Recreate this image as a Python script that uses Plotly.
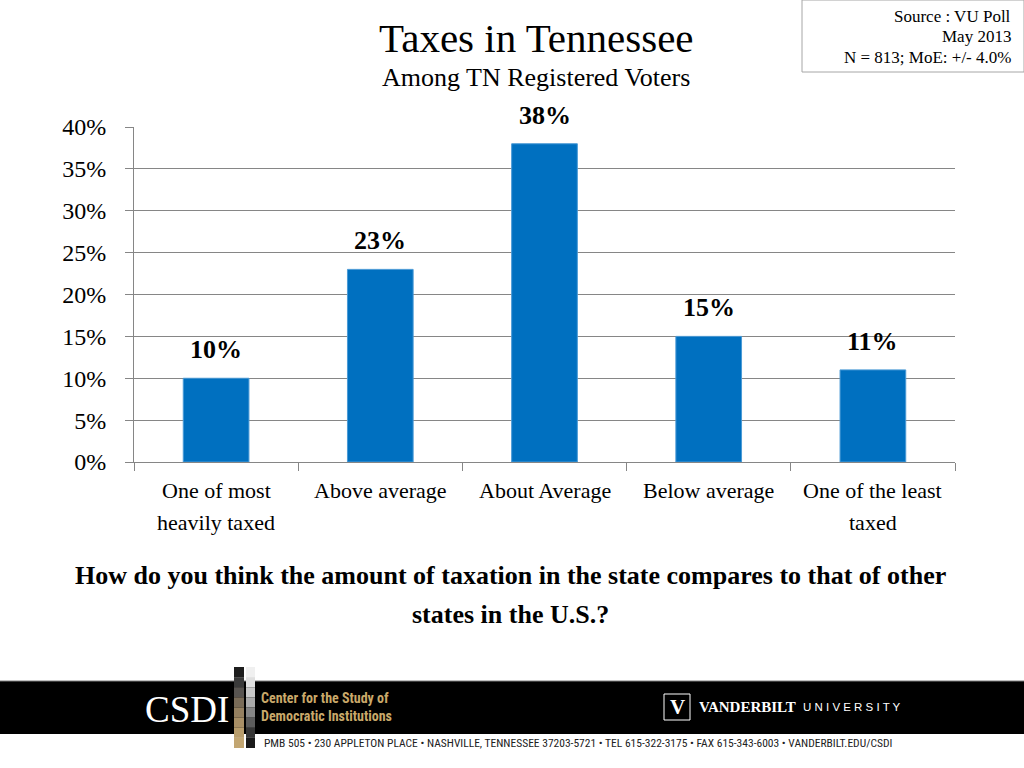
import plotly.graph_objects as go

categories = ["One of most\nheavily taxed", "Above average", "About Average", "Below average", "One of the least\ntaxed"]
values = [10, 23, 38, 15, 11]
y_ticks = [0, 5, 10, 15, 20, 25, 30, 35, 40]

W, H = 1024, 768
L, R, T, B = 134, 955, 127, 462

def px(x):
    return (x - L) / (R - L)

def py(y):
    return (B - y) / (B - T)

SERIF = "Liberation Serif"
COND = "Liberation Sans Narrow, Roboto Condensed, Liberation Sans"

fig = go.Figure()
fig.add_trace(go.Bar(
    x=categories, y=values, width=0.4,
    marker=dict(color="#0070c0", line=dict(color="#4a9ad6", width=1)),
    hoverinfo="skip",
))

annotations = []
for c, v in zip(categories, values):
    annotations.append(dict(x=c, y=v, xref="x", yref="y", text=f"<b>{v}%</b>",
                            showarrow=False, yanchor="bottom", yshift=12,
                            font=dict(family=SERIF, size=26, color="#000000")))
    lines = c.split("\n")
    for i, line in enumerate(lines):
        annotations.append(dict(x=c, y=py(490 + 32 * i), xref="x", yref="paper", text=line,
                                showarrow=False, yanchor="middle",
                                font=dict(family=SERIF, size=22, color="#000000")))

annotations += [
    dict(x=px(536), y=py(38), xref="paper", yref="paper", text="Taxes in Tennessee", showarrow=False,
         xanchor="center", yanchor="middle", font=dict(family=SERIF, size=41, color="#000000")),
    dict(x=px(536), y=py(78), xref="paper", yref="paper", text="Among TN Registered Voters", showarrow=False,
         xanchor="center", yanchor="middle", font=dict(family=SERIF, size=26, color="#000000")),
    dict(x=px(510), y=py(575), xref="paper", yref="paper",
         text="<b>How do you think the amount of taxation in the state compares to that of other</b>",
         showarrow=False, xanchor="center", yanchor="middle", font=dict(family=SERIF, size=26, color="#000000")),
    dict(x=px(510), y=py(614), xref="paper", yref="paper", text="<b>states in the U.S.?</b>",
         showarrow=False, xanchor="center", yanchor="middle", font=dict(family=SERIF, size=26, color="#000000")),
    dict(x=px(1013), y=py(16), xref="paper", yref="paper", text="Source : VU Poll", showarrow=False,
         xanchor="right", yanchor="middle", font=dict(family=SERIF, size=17, color="#000000")),
    dict(x=px(1013), y=py(37), xref="paper", yref="paper", text="May 2013", showarrow=False,
         xanchor="right", yanchor="middle", font=dict(family=SERIF, size=17, color="#000000")),
    dict(x=px(1013), y=py(57), xref="paper", yref="paper", text="N = 813; MoE: +/- 4.0%", showarrow=False,
         xanchor="right", yanchor="middle", font=dict(family=SERIF, size=17, color="#000000")),
    # footer texts
    dict(x=px(187), y=py(709), xref="paper", yref="paper", text="CSDI", showarrow=False,
         xanchor="center", yanchor="middle", font=dict(family=SERIF, size=37, color="#ffffff")),
    dict(x=px(259), y=py(707), xref="paper", yref="paper",
         text="<b>Center for the Study of<br>Democratic Institutions</b>", showarrow=False, align="left",
         xanchor="left", yanchor="middle", font=dict(family=COND, size=14, color="#c9a96a")),
    dict(x=px(697), y=py(707), xref="paper", yref="paper",
         text="<b>VANDERBILT</b>", showarrow=False,
         xanchor="left", yanchor="middle", font=dict(family=SERIF, size=15, color="#ffffff")),
    dict(x=px(801), y=py(707), xref="paper", yref="paper",
         text="U N I V E R S I T Y", showarrow=False,
         xanchor="left", yanchor="middle", font=dict(family="Liberation Sans", size=11.5, color="#ffffff")),
    dict(x=px(677), y=py(707), xref="paper", yref="paper", text="<b>V</b>", showarrow=False,
         xanchor="center", yanchor="middle", font=dict(family=SERIF, size=21, color="#ffffff")),
    dict(x=px(262), y=py(743), xref="paper", yref="paper",
         text="PMB 505 • 230 APPLETON PLACE • NASHVILLE, TENNESSEE 37203-5721 • TEL 615-322-3175 • FAX 615-343-6003 • VANDERBILT.EDU/CSDI",
         showarrow=False, xanchor="left", yanchor="middle", font=dict(family=COND, size=11.5, color="#222222")),
]

shapes = [
    dict(type="rect", xref="paper", yref="paper", x0=px(802), x1=px(1024), y0=py(0), y1=py(72),
         line=dict(color="#a6a6a6", width=1), fillcolor="rgba(0,0,0,0)"),
    dict(type="rect", xref="paper", yref="paper", x0=px(0), x1=px(1024), y0=py(681), y1=py(734),
         line=dict(width=0), fillcolor="#000000", layer="below"),
    dict(type="line", xref="paper", yref="paper", x0=px(0), x1=px(1024), y0=py(681), y1=py(681),
         line=dict(color="#7f7f7f", width=1)),
    dict(type="rect", xref="paper", yref="paper", x0=px(664), x1=px(690), y0=py(694), y1=py(720),
         line=dict(color="#ffffff", width=1), fillcolor="rgba(0,0,0,0)"),
]
# gradient-ish vertical bars next to CSDI
strip_cols_left = ["#1e1e1e", "#3a3a3a", "#585450", "#7a6c58", "#958060", "#a88f66", "#b89d6c", "#c2a672"]
strip_cols_right = ["#f0f0f0", "#e0e0e0", "#c8c8c8", "#aaaaaa", "#858585", "#5c5c5c", "#363636", "#1a1a1a"]
y_start, y_end = 667, 748
n = len(strip_cols_left)
for i in range(n):
    ya = y_start + (y_end - y_start) * i / n
    yb = y_start + (y_end - y_start) * (i + 1) / n
    shapes.append(dict(type="rect", xref="paper", yref="paper", x0=px(234), x1=px(244), y0=py(ya), y1=py(yb),
                       line=dict(width=0), fillcolor=strip_cols_left[i]))
    shapes.append(dict(type="rect", xref="paper", yref="paper", x0=px(246), x1=px(255), y0=py(ya), y1=py(yb),
                       line=dict(width=0), fillcolor=strip_cols_right[i]))

fig.update_layout(
    width=W, height=H,
    margin=dict(l=L, r=W - R, t=T, b=H - B, pad=0),
    paper_bgcolor="#ffffff", plot_bgcolor="#ffffff",
    showlegend=False,
    bargap=0.6,
    annotations=annotations,
    shapes=shapes,
    xaxis=dict(
        type="category", showticklabels=False, showgrid=False,
        showline=True, linecolor="#868686", linewidth=1,
        ticks="outside", ticklen=8, tickcolor="#868686", tickson="boundaries",
        range=[-0.5, 4.5], fixedrange=True,
    ),
    yaxis=dict(
        range=[0, 40], tickvals=y_ticks, ticktext=[f"{t}%" for t in y_ticks],
        showgrid=True, gridcolor="#868686", gridwidth=1,
        showline=True, linecolor="#868686", linewidth=1,
        ticks="outside", ticklen=8, tickcolor="#868686",
        ticklabelstandoff=14,
        tickfont=dict(family=SERIF, size=24, color="#000000"),
        zeroline=False, fixedrange=True,
    ),
)

fig.write_html("out.html", config={"displayModeBar": False},
               post_script="document.body.style.margin='0';document.body.style.padding='0';")
